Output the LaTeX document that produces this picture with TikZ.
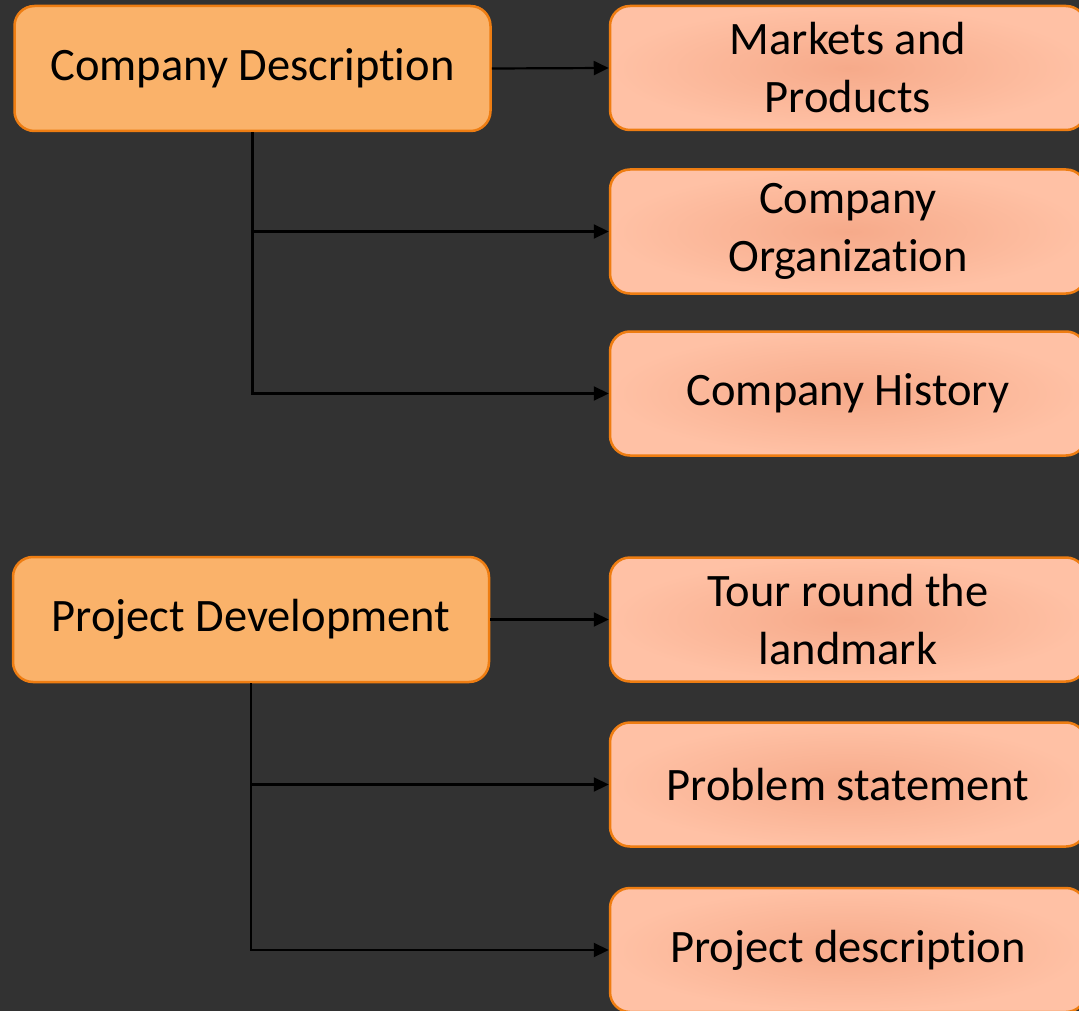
\documentclass[tikz,border=0pt]{standalone}
\usepackage{fontspec}
\setmainfont{Carlito}[Ligatures = NoCommon]
\usetikzlibrary{arrows.meta}
\definecolor{bgdark}{HTML}{323232}
\definecolor{headfill}{HTML}{FAB26A}
\definecolor{edgeorange}{HTML}{EE7D12}
\definecolor{subouter}{HTML}{FFC1A5}
\definecolor{subinner}{HTML}{F6AA8A}
\tikzset{
    mainbox/.style = {draw = edgeorange, line width = 2.5pt, fill = headfill,
        rounded corners = 20pt, minimum width = 476pt, minimum height = 125pt,
        inner sep = 0pt, align = center},
    subbox/.style = {draw = edgeorange, line width = 2.5pt, rounded corners = 20pt,
        inner color = subinner, outer color = subouter,
        minimum width = 476pt, minimum height = 124pt, inner sep = 0pt, align = center},
    link/.style = {line width = 2.2pt, -{Triangle[length = 15pt, width = 14pt]}}
}
\begin{document}
\begin{tikzpicture}[x = 1pt, y = -1pt, font = \fontsize{46.5}{58}\selectfont]
            \useasboundingbox[fill = bgdark] (0, 0) rectangle (1079, 1011);
            \node[mainbox] (cd) at (252.5, 68.5) {Company Description};
            \node[mainbox] (pd) at (251, 619.5) {Project Development};
            \foreach \n/\y/\t in {1/68/{Markets and\\Products}, 2/231.5/{Company\\Organization},
                3/393.5/{Company History}, 4/619.5/{Tour round the\\landmark},
                5/784.5/{Problem statement}, 6/950/{Project description}}
                {\node[subbox] (s\n) at (848, \y) {\t};};
            \draw[link] (cd.east) -- (s1.west);
            \draw[link] (cd.south) |- (s2.west);
            \draw[link] (cd.south) |- (s3.west);
            \draw[link] (pd.east) -- (s4.west);
            \draw[link] (pd.south) |- (s5.west);
            \draw[link] (pd.south) |- (s6.west);
        \end{tikzpicture}
\end{document}
